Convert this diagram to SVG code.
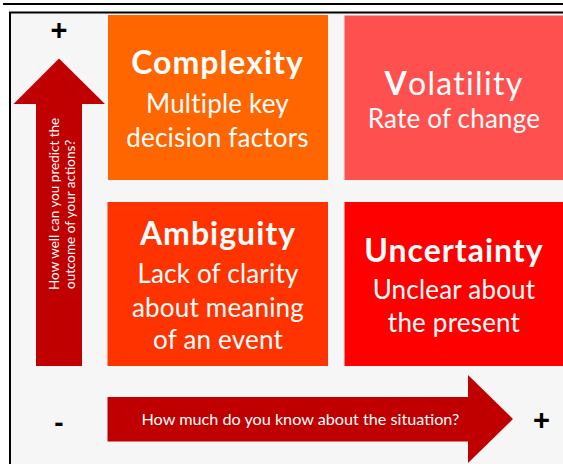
<svg xmlns="http://www.w3.org/2000/svg" width="563" height="464" viewBox="0 0 563 464">
<style>
.t{font-family:Lato,"Open Sans",sans-serif;fill:#fff;text-anchor:middle}
.h{font-weight:bold;font-size:32px;letter-spacing:1px}
.s{font-size:26px;letter-spacing:0.2px}
.ax{font-family:Lato,"Open Sans",sans-serif;fill:#fff;font-size:13.5px}
.sg{font-family:"Liberation Sans",Arial,sans-serif;font-weight:bold;fill:#000;text-anchor:middle}
.arrow{fill:#C00000}
</style>
<rect x="0" y="0" width="563" height="464" fill="#fff"/>
<rect x="10" y="12.5" width="553" height="451.5" fill="#F6F6F6"/>
<line x1="3" y1="4" x2="563" y2="4" stroke="#000" stroke-width="1.8"/>
<path d="M10,464 V12.5 H563" fill="none" stroke="#000" stroke-width="2"/>

<g id="complexity">
<rect x="108" y="15" width="220" height="165" fill="#FF6600"/>
<text class="t h" x="217.5" y="74">Complexity</text>
<text class="t s" x="217.5" y="113">Multiple key</text>
<text class="t s" x="217.5" y="147">decision factors</text>
</g>
<g id="volatility">
<rect x="344.5" y="15.5" width="220" height="164.5" fill="#FF5050"/>
<text class="t" x="454" y="95" style="font-size:32px;letter-spacing:1.3px"><tspan font-weight="bold">V</tspan>olatility</text>
<text class="t s" x="454" y="128">Rate of change</text>
</g>
<g id="ambiguity">
<rect x="107.5" y="202" width="220.5" height="164" fill="#FF3300"/>
<text class="t h" x="218" y="245">Ambiguity</text>
<text class="t s" x="218" y="283">Lack of clarity</text>
<text class="t s" x="218" y="316.5">about meaning</text>
<text class="t s" x="218" y="349">of an event</text>
</g>
<g id="uncertainty">
<rect x="344.5" y="202" width="220" height="164" fill="#FF0000"/>
<text class="t h" x="454" y="261.5">Uncertainty</text>
<text class="t s" x="454" y="299">Unclear about</text>
<text class="t s" x="454" y="331.5">the present</text>
</g>

<g id="connectors">
<polygon class="arrow" points="59,58.5 105,104 82,104 82,366 36,366 36,104 13.5,104"/>
<polygon class="arrow" points="107.5,397 468,397 468,375 513,419 468,463 468,441.5 107.5,441.5"/>
</g>
<g id="axis-labels">
<text class="ax" transform="translate(58.5,290) rotate(-90)">How well can you predict the</text>
<text class="ax" transform="translate(75,289) rotate(-90)">outcome of your actions?</text>
<text class="ax" x="141.5" y="425" style="font-size:16.2px">How much do you know about the situation?</text>
<text class="sg" x="59" y="40" font-size="29">+</text>
<text class="sg" x="541.5" y="430" font-size="29">+</text>
<text class="sg" x="59" y="432" font-size="28">-</text>
</g>
</svg>
